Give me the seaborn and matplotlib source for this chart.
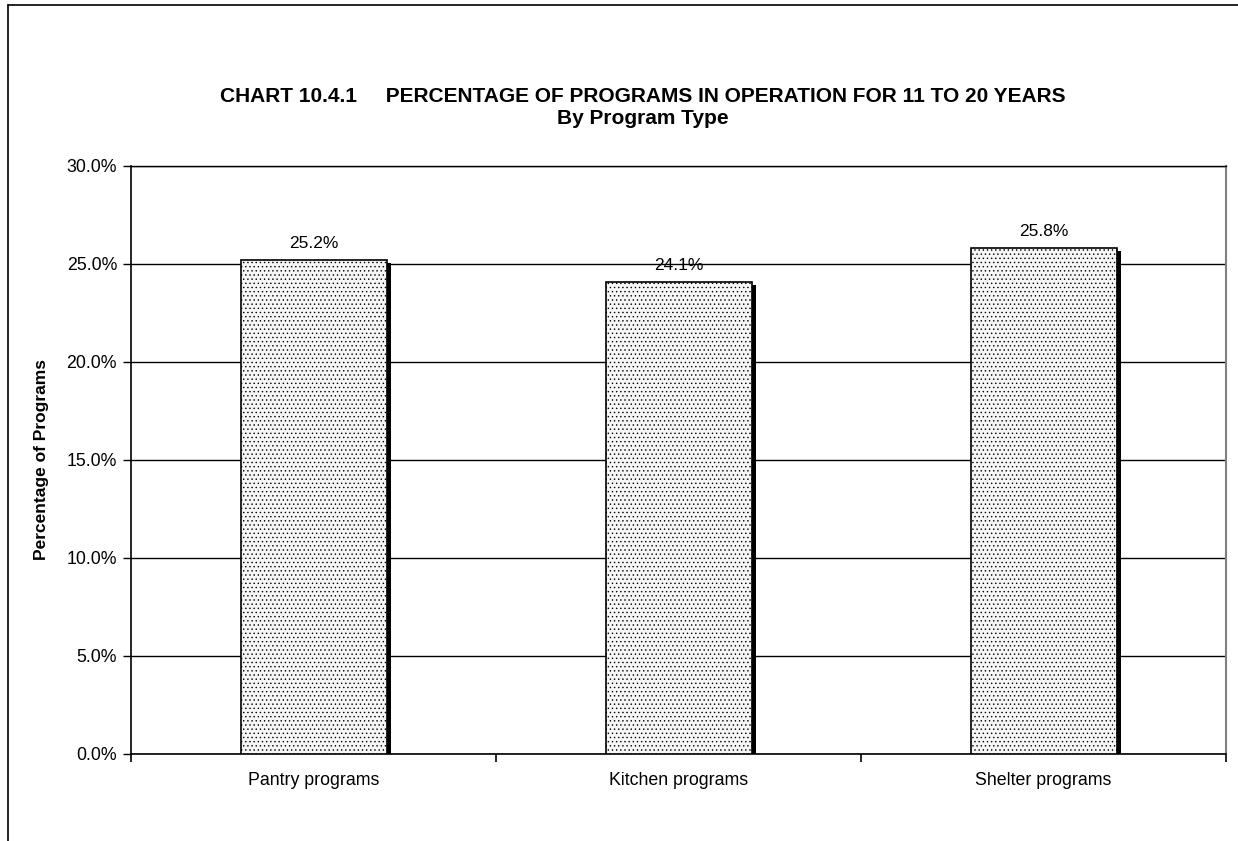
import matplotlib
matplotlib.use('Agg')
import matplotlib.pyplot as plt
import seaborn as sns
import pandas as pd
from matplotlib.ticker import PercentFormatter
from matplotlib.lines import Line2D

# data
programs = ['Pantry programs', 'Kitchen programs', 'Shelter programs']
pct = [25.2, 24.1, 25.8]

df = pd.DataFrame({'Program': programs, 'Pct': pct})

sns.set_style('white')
plt.rcParams['font.family'] = ['Liberation Sans', 'DejaVu Sans']
plt.rcParams['text.color'] = 'black'
plt.rcParams['axes.labelcolor'] = 'black'
plt.rcParams['xtick.color'] = 'black'
plt.rcParams['ytick.color'] = 'black'
plt.rcParams['hatch.color'] = '#b4b4b4'
plt.rcParams['hatch.linewidth'] = 0.5

fig = plt.figure(figsize=(12.38, 8.41), dpi=100)
ax = fig.add_axes([131 / 1238, 1 - 754 / 841, 1095 / 1238, 588 / 841])

# shadow bars first (offset to the right)
sns.barplot(data=df, x='Program', y='Pct', ax=ax, color='black', width=0.4,
            saturation=1, edgecolor='black', linewidth=0, zorder=2)
for p in ax.patches:
    p.set_x(p.get_x() + 0.011)
    p.set_height(p.get_height() - 0.15)
n_shadow = len(ax.patches)

sns.barplot(data=df, x='Program', y='Pct', ax=ax, color='white', width=0.4,
            saturation=1, edgecolor='black', linewidth=1.2, zorder=3)
for p in ax.patches[n_shadow:]:
    p.set_hatch('....')
    p.set_facecolor('#f6f6f6')

for i, v in enumerate(pct):
    ax.text(i, v + 0.45, f'{v:.1f}%', ha='center', va='bottom', fontsize=12.5)

ax.set_ylim(0, 30)
ax.set_xlim(-0.5, 2.5)
ax.set_yticks([0, 5, 10, 15, 20, 25, 30])
ax.yaxis.set_major_formatter(PercentFormatter(decimals=1))
ax.yaxis.grid(True, color='black', linewidth=1, zorder=0)
ax.set_axisbelow(True)

# ticks at category boundaries
ax.set_xticks([-0.5, 0.5, 1.5, 2.5], minor=False)
ax.set_xticklabels([])
ax.set_xticks([0, 1, 2], minor=True)
ax.set_xticklabels(programs, minor=True, fontsize=12.8)
ax.tick_params(axis='x', which='major', direction='out', length=6, width=1.2,
               color='black', bottom=True)
ax.tick_params(axis='x', which='minor', length=0, pad=13)
ax.tick_params(axis='y', direction='out', length=6, width=1, color='black',
               left=True, labelsize=12.8, pad=4)

ax.set_xlabel('')
ax.set_ylabel('Percentage of Programs', fontsize=12.5, fontweight='bold', labelpad=13)

for s in ['left', 'bottom']:
    ax.spines[s].set_color('black')
    ax.spines[s].set_linewidth(1.2)
ax.spines['right'].set_color('#808080')
ax.spines['right'].set_linewidth(1.5)
ax.spines['top'].set_color('black')
ax.spines['top'].set_linewidth(1)

fig.text(643 / 1238, 1 - 96 / 841, 'CHART 10.4.1     PERCENTAGE OF PROGRAMS IN OPERATION FOR 11 TO 20 YEARS',
         ha='center', va='center', fontsize=15, fontweight='bold')
fig.text(643 / 1238, 1 - 118 / 841, 'By Program Type',
         ha='center', va='center', fontsize=15, fontweight='bold')

# outer chart-area border (left and top visible)
fig.add_artist(Line2D([8 / 1238, 8 / 1238], [0, 1 - 5 / 841], color='black', linewidth=1.2,
                      transform=fig.transFigure))
fig.add_artist(Line2D([8 / 1238, 1], [1 - 5 / 841, 1 - 5 / 841], color='black', linewidth=1.2,
                      transform=fig.transFigure))

plt.savefig('out.png', dpi=100)
plt.close()
